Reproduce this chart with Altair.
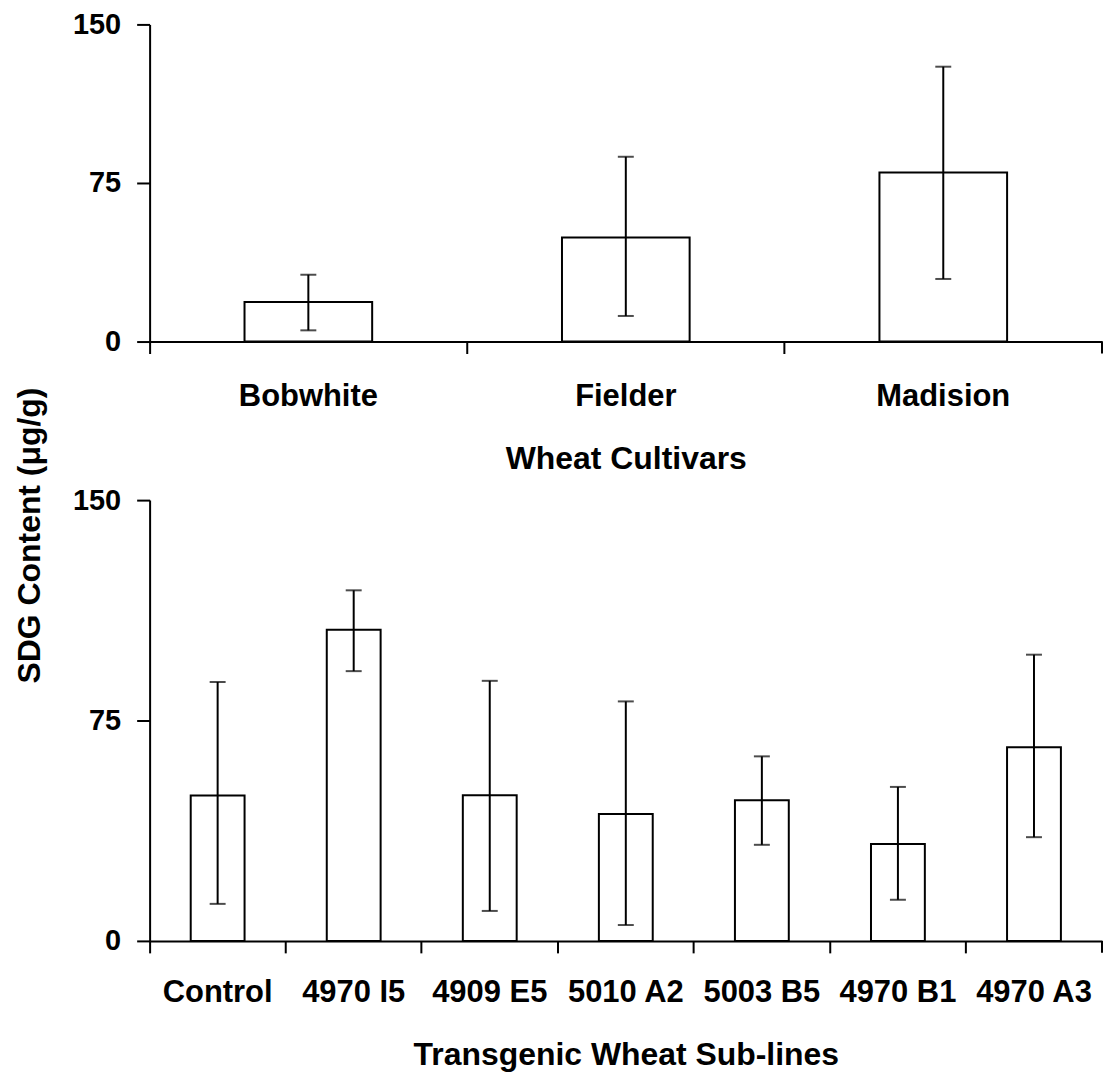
import altair as alt
import pandas as pd

# ---- data ----
cultivars = ["Bobwhite", "Fielder", "Madision"]
cult_mean = [18.7, 49.2, 80.0]
cult_hi = [31.6, 87.4, 130.0]
cult_lo = [5.3, 12.1, 29.6]

sublines = ["Control", "4970 I5", "4909 E5", "5010 A2", "5003 B5", "4970 B1", "4970 A3"]
sub_mean = [49.5, 105.9, 49.6, 43.2, 47.9, 33.0, 65.9]
sub_hi = [88.1, 119.3, 88.5, 81.5, 62.8, 52.4, 97.4]
sub_lo = [12.6, 91.8, 10.2, 5.4, 32.7, 14.0, 35.3]

y_ticks = [0, 75, 150]

FONT = "Liberation Sans"
W = 955
H_TOP = 318
H_BOT = 442
TICK = 12


def panel(cats, mean, hi, lo, height, bar_size, xtitle, label_pad, title_pad,
          ytitle=None):
    df = pd.DataFrame({"cat": cats, "mean": mean, "hi": hi, "lo": lo})
    base = alt.Chart(df)
    x = alt.X(
        "cat:N",
        sort=cats,
        scale=alt.Scale(paddingInner=0, paddingOuter=0),
        axis=alt.Axis(
            title=xtitle,
            labelAngle=0,
            bandPosition=0,
            grid=False,
            domainColor="black",
            domainWidth=2,
            tickColor="black",
            tickWidth=2,
            tickSize=TICK,
            labelFont=FONT,
            labelFontSize=31,
            labelFontWeight="bold",
            labelColor="black",
            labelPadding=label_pad,
            titleFont=FONT,
            titleFontSize=32,
            titleFontWeight="bold",
            titleColor="black",
            titlePadding=title_pad,
        ),
    )
    yaxis_kwargs = dict(
        values=y_ticks,
        grid=False,
        domainColor="black",
        domainWidth=2,
        tickColor="black",
        tickWidth=2,
        tickSize=13,
        labelFont=FONT,
        labelFontSize=29,
        labelFontWeight="bold",
        labelColor="black",
        labelPadding=16,
    )
    if ytitle:
        yaxis_kwargs.update(
            title=ytitle,
            titleFont=FONT,
            titleFontSize=32,
            titleFontWeight="bold",
            titleColor="black",
            titleY=35,
            titleAnchor="middle",
            titlePadding=26,
        )
    else:
        yaxis_kwargs.update(title=None)
    y = alt.Y(
        "mean:Q",
        scale=alt.Scale(domain=[0, 150], nice=False),
        axis=alt.Axis(**yaxis_kwargs),
    )
    bars = base.mark_bar(
        size=bar_size, fill="white", stroke="black", strokeWidth=2
    ).encode(x=x, y=y)
    rule = base.mark_rule(color="black", strokeWidth=2).encode(
        x=alt.X("cat:N", sort=cats), y="hi:Q", y2="lo:Q"
    )
    cap_hi = base.mark_tick(color="black", thickness=2, size=16).encode(
        x=alt.X("cat:N", sort=cats), y="hi:Q"
    )
    cap_lo = base.mark_tick(color="black", thickness=2, size=16).encode(
        x=alt.X("cat:N", sort=cats), y="lo:Q"
    )
    end_tick = (
        alt.Chart(pd.DataFrame({"cat": [cats[-1]]}))
        .mark_rule(color="black", strokeWidth=2)
        .encode(
            x=alt.X("cat:N", sort=cats, bandPosition=1),
            y=alt.value(height),
            y2=alt.value(height + TICK),
        )
    )
    return alt.layer(bars, rule, cap_hi, cap_lo, end_tick).properties(
        width=W, height=height, view=alt.ViewBackground(strokeOpacity=0)
    )


top = panel(cultivars, cult_mean, cult_hi, cult_lo, H_TOP, 128,
            "Wheat Cultivars", 28, 32)
bottom = panel(
    sublines, sub_mean, sub_hi, sub_lo, H_BOT, 54,
    "Transgenic Wheat Sub-lines", 25, 32, ytitle="SDG Content (μg/g)"
)

chart = (
    alt.vconcat(top, bottom, spacing=159, bounds="flush")
    .properties(padding={"left": 5, "top": 1, "right": 0, "bottom": 0})
    .configure_view(stroke=None, strokeWidth=0, strokeOpacity=0)
    .configure(background="white")
)

chart.save("out.html", embed_options={"renderer": "svg", "actions": False})
